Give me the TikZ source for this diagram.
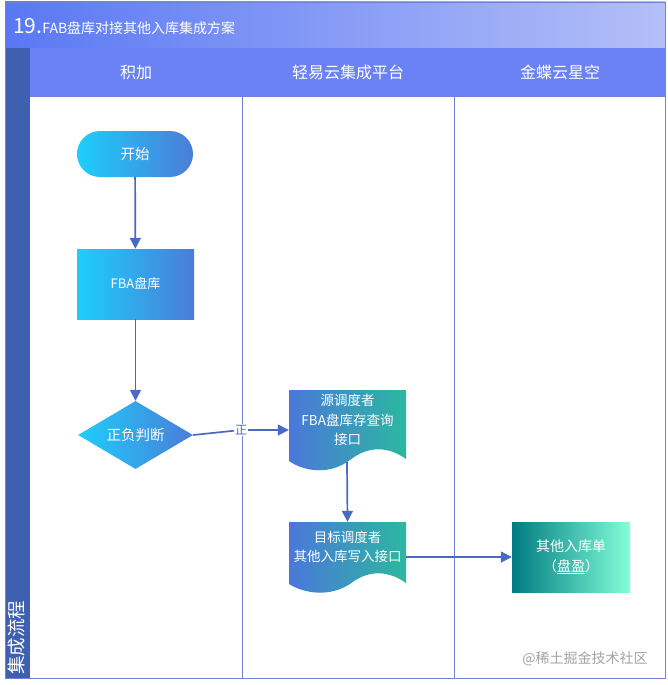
\documentclass[tikz,border=0pt]{standalone}
\usepackage{fontspec}
\setmainfont{Noto Sans CJK SC}
\usetikzlibrary{shapes.geometric,arrows.meta,calc}
\definecolor{titleL}{HTML}{5A78F4}
\definecolor{titleR}{HTML}{B3BFF7}
\definecolor{hdr}{HTML}{6A82F4}
\definecolor{band}{HTML}{3F60B0}
\definecolor{frame}{HTML}{6F82DA}
\definecolor{arr}{HTML}{4A68C4}
\definecolor{cyanL}{HTML}{1DCFFB}
\definecolor{blueR}{HTML}{4B7CD8}
\definecolor{docL}{HTML}{4A78DA}
\definecolor{docM}{HTML}{5B86E4}
\definecolor{docR}{HTML}{2CB8A0}
\definecolor{tealL}{HTML}{007C82}
\definecolor{mintR}{HTML}{82FFD8}
\definecolor{wm}{HTML}{A3A3A3}
\begin{document}
\begin{tikzpicture}[x=1pt,y=-1pt,
  txt/.style={text=white,font=\fontsize{13.5}{19.5}\selectfont,align=center},
  cyanbox/.style={txt,left color=cyanL,right color=blueR,draw=none},
  startbox/.style={cyanbox,rectangle,rounded corners=23pt,minimum width=116pt,minimum height=46pt,inner sep=0pt},
  procbox/.style={cyanbox,rectangle,minimum width=117pt,minimum height=70pt,inner sep=0pt},
  decbox/.style={cyanbox,diamond,aspect=1.7,minimum width=115pt,minimum height=68pt,inner sep=0pt},
  docbox/.style={txt,rectangle,minimum width=117pt,minimum height=70pt,inner sep=0pt},
  tealbox/.style={txt,rectangle,left color=tealL,right color=mintR,minimum width=118pt,minimum height=70pt,inner sep=0pt},
  hdrtext/.style={text=white,font=\fontsize{16}{18}\selectfont},
  flow/.style={draw=arr,line width=1.7pt,-{Triangle[length=11pt,width=11pt]}},
  lane/.style={draw=frame,line width=0.8pt}
]
\useasboundingbox (0,0) rectangle (667,685);
% title band
\shade[left color=titleL,middle color=titleL,right color=titleR] (5,2) rectangle (665,48);
% header row and left band
\fill[hdr] (30,48) rectangle (665,96);
\fill[band] (5,48) rectangle (30,678);
% frame and lanes
\draw[lane] (5,2) rectangle (665,678);
\draw[lane] (30,96) -- (665,96);
\draw[lane] (242,96) -- (242,678);
\draw[lane] (454,96) -- (454,678);
% title
\node[anchor=west,text=white,inner sep=0pt] (title) at (13,26)
  {\fontsize{21}{24}\selectfont 19.\fontsize{14}{16}\selectfont FAB盘库对接其他入库集成方案};
% headers
\node[hdrtext] (h1) at (136,72) {积加};
\node[hdrtext] (h2) at (348,72) {轻易云集成平台};
\node[hdrtext] (h3) at (560,72) {金蝶云星空};
% left band text
\node[rotate=90,anchor=west,text=white,inner sep=0pt,font=\fontsize{18.5}{20}\selectfont] (lanelabel) at (17,675) {集成流程};
% nodes
\node[startbox,font=\fontsize{14.5}{18}\selectfont] (start) at (135,154) {开始};
\node[procbox,font=\fontsize{13}{18}\selectfont] (fba) at (135.5,284) {FBA盘库};
\node[decbox,font=\fontsize{14.5}{18}\selectfont] (dec) at (135.5,435) {正负判断};
% document 1
\node[docbox] (doc1) at (347.5,425) {};
\shade[left color=docL,middle color=docM,right color=docR]
  (289,390) -- (406,390) -- (406,459)
  .. controls (385,444) and (365,448) .. (350,460)
  .. controls (330,475) and (305,472) .. (289,461) -- cycle;
\node[txt] (doc1t) at (347.5,420) {源调度者\\FBA盘库存查询\\接口};
% document 2
\node[docbox] (doc2) at (347.5,557) {};
\shade[left color=docL,middle color=docM,right color=docR]
  (289,522) -- (406,522) -- (406,583)
  .. controls (385,568) and (365,572) .. (350,584)
  .. controls (330,597) and (305,594) .. (289,584) -- cycle;
\node[txt] (doc2t) at (347.5,547) {目标调度者\\其他入库写入接口};
% teal box
\node[tealbox,font=\fontsize{14}{20}\selectfont] (other) at (571,557) {其他入库单\\（\underline{盘盈}）};
% connectors
\coordinate (zheng) at (241,430);
\draw[flow] (start) -- (fba);
\draw[flow] (fba) -- (dec);
\draw[draw=arr,line width=1.7pt] (dec.east) -- (zheng);
\draw[flow] (zheng) -- (zheng -| doc1.west);
\node[fill=white,inner sep=1pt,text=arr,font=\fontsize{12}{13}\selectfont] (zl) at (zheng) {正};
\draw[flow] (347,462) -- (doc2.north);
\draw[flow] (doc2.east) -- (other.west);
% watermark
\node[text=wm,font=\fontsize{14}{16}\selectfont,inner sep=0pt] (wmk) at (585,659) {@稀土掘金技术社区};
\end{tikzpicture}
\end{document}
